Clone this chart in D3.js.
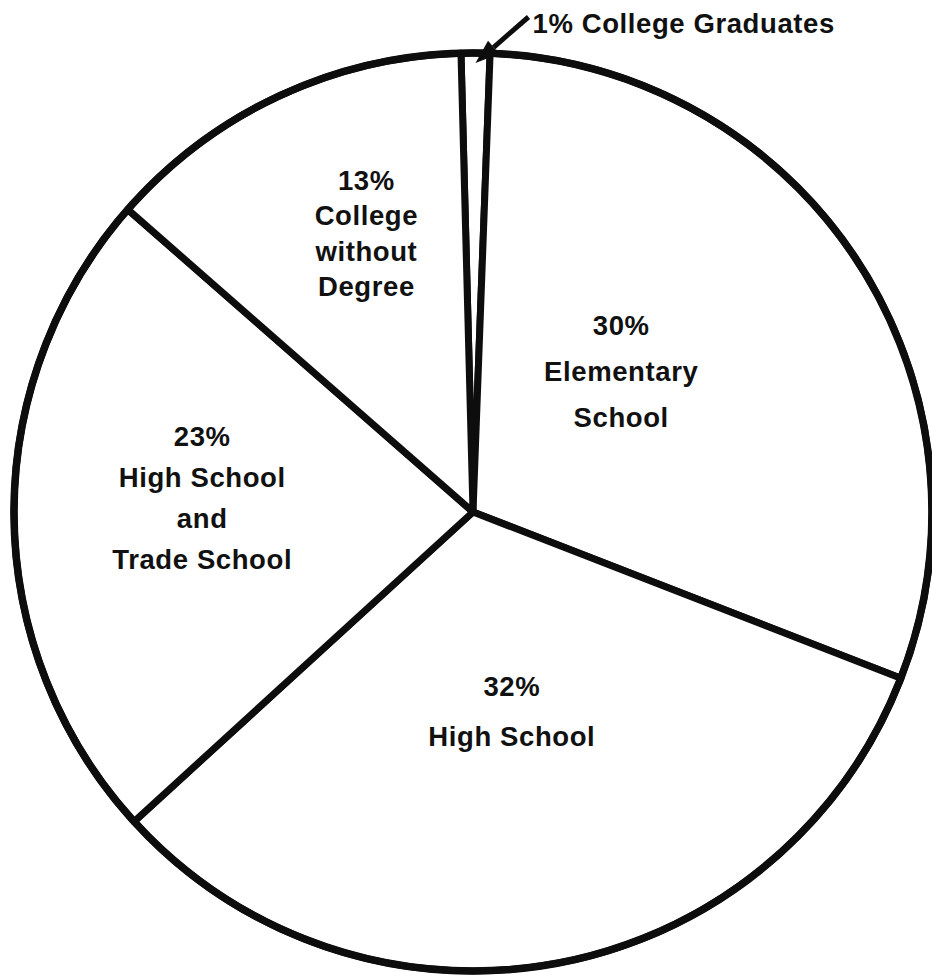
<!DOCTYPE html>
<html>
<head>
<meta charset="utf-8">
<script src="https://cdn.jsdelivr.net/npm/d3@7/dist/d3.min.js"></script>
<style>
  html, body { margin: 0; padding: 0; background: #fff; }
  svg { display: block; }
  text { font-family: "Liberation Sans", Arial, sans-serif; font-weight: bold; fill: #111; }
</style>
</head>
<body>
<svg id="chart" width="932" height="980"></svg>
<script>
// Educational attainment shares, clockwise from the top
const categories = ["College Graduates", "Elementary School", "High School", "High School and Trade School", "College without Degree"];
const percents   = [1, 30, 32, 23, 13];
// Label lines printed inside each slice (after the percentage line)
const labelLines = [
  ["College Graduates"],
  ["Elementary", "School"],
  ["High School"],
  ["High School", "and", "Trade School"],
  ["College", "without", "Degree"]
];

const W = 932, H = 980;
const cx = 473, cy = 512, R = 459;
const ink = "#0d0d0d";
const fontSize = 27.5;

const svg = d3.select("#chart");
const g = svg.append("g").attr("transform", `translate(${cx},${cy})`);

const deg = Math.PI / 180;
const pie = d3.pie().sort(null).value(d => d).startAngle(-1.5 * deg).endAngle(358.5 * deg);
const arcs = pie(percents);
const arc = d3.arc().innerRadius(0).outerRadius(R);

// Slices
g.selectAll("path.slice")
  .data(arcs)
  .join("path")
  .attr("class", "slice")
  .attr("d", arc)
  .attr("fill", "#fff")
  .attr("stroke", ink)
  .attr("stroke-width", 7)
  .attr("stroke-linejoin", "round");

// Outer rim drawn a bit heavier
g.append("circle").attr("r", R).attr("fill", "none").attr("stroke", ink).attr("stroke-width", 7.5);

// Label placement: radius fraction, angular nudge and line height for each slice's text block
const labelLayout = {
  "Elementary School":            { k: 0.43, turn: -8,  lh: 46, dy: -1 },
  "High School":                  { k: 0.46, turn: 0,   lh: 50, dy: 1 },
  "High School and Trade School": { k: 0.59, turn: 1,   lh: 41, dy: -3 },
  "College without Degree":       { k: 0.63, turn: 3.5, lh: 35.5, dy: 0 }
};

arcs.forEach((a, i) => {
  const name = categories[i];
  const lay = labelLayout[name];
  if (!lay) return;
  const mid = (a.startAngle + a.endAngle) / 2 + lay.turn * deg;
  const r = R * lay.k;
  const x = Math.sin(mid) * r, y = -Math.cos(mid) * r;
  const lines = [percents[i] + "%"].concat(labelLines[i]);
  const n = lines.length;
  const t = g.append("text")
    .attr("text-anchor", "middle")
    .attr("font-size", fontSize)
    .attr("letter-spacing", 0.6);
  lines.forEach((s, j) => {
    t.append("tspan")
      .attr("x", x)
      .attr("y", y + (j - (n - 1) / 2) * lay.lh + lay.dy)
      .text(s);
  });
});

// Callout for the thin "College Graduates" slice
const cg = arcs[0];
const cgMid = (cg.startAngle + cg.endAngle) / 2;
const tip = [cx + Math.sin(cgMid) * (R - 10), cy - Math.cos(cgMid) * (R - 10)];
const tail = [tip[0] + 53, tip[1] - 46];
const ang = Math.atan2(tail[1] - tip[1], tail[0] - tip[0]);
const headLen = 24, headHalf = 8.5;
const bx = tip[0] + Math.cos(ang) * headLen, by = tip[1] + Math.sin(ang) * headLen;
const px = -Math.sin(ang) * headHalf, py = Math.cos(ang) * headHalf;

svg.append("line")
  .attr("x1", bx).attr("y1", by)
  .attr("x2", tail[0]).attr("y2", tail[1])
  .attr("stroke", ink).attr("stroke-width", 5);
svg.append("path")
  .attr("d", `M${tip[0]},${tip[1]}L${bx + px},${by + py}L${bx - px},${by - py}Z`)
  .attr("fill", ink);

svg.append("text")
  .attr("x", tail[0] + 4)
  .attr("y", 33)
  .attr("font-size", fontSize)
  .attr("letter-spacing", 0.6)
  .text(percents[0] + "% " + labelLines[0][0]);
</script>
</body>
</html>
